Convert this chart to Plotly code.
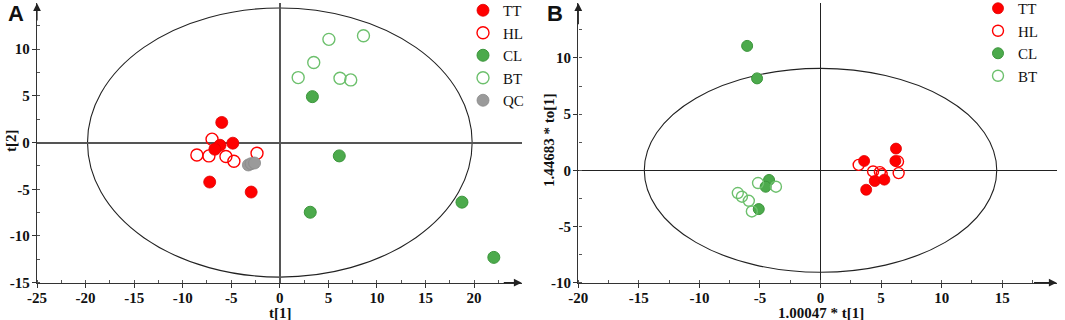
import plotly.graph_objects as go

# ---------------- Data: panel A (PCA scores) ----------------
A_TT_x = [-5.98, -4.84, -6.16, -6.69, -7.22, -2.95]
A_TT_y = [2.15, -0.07, -0.29, -0.72, -4.23, -5.30]
A_HL_x = [-6.98, -8.54, -7.30, -5.55, -4.73, -2.35]
A_HL_y = [0.36, -1.33, -1.43, -1.50, -2.00, -1.15]
A_CL_x = [3.35, 6.12, 3.13, 18.75, 22.03]
A_CL_y = [4.91, -1.43, -7.46, -6.38, -12.29]
A_BT_x = [1.89, 3.49, 5.05, 8.61, 6.19, 7.30]
A_BT_y = [6.95, 8.57, 11.04, 11.43, 6.88, 6.70]
A_QC_x = [-3.24, -2.95, -2.60]
A_QC_y = [-2.40, -2.26, -2.19]
A_ellipse = [19.8, 14.4]          # semi-axes (x, y)

# ---------------- Data: panel B (OPLS-DA scores) ----------------
B_TT_x = [6.23, 6.18, 3.60, 4.48, 5.27, 3.77]
B_TT_y = [1.93, 0.83, 0.83, -0.95, -0.83, -1.73]
B_HL_x = [3.15, 4.34, 4.90, 5.05, 6.40, 6.45]
B_HL_y = [0.48, -0.10, -0.16, -0.35, 0.78, -0.25]
B_CL_x = [-6.06, -5.24, -4.25, -4.53, -5.10]
B_CL_y = [11.07, 8.18, -0.86, -1.46, -3.45]
B_BT_x = [-5.16, -3.68, -6.83, -6.49, -5.92, -5.67]
B_BT_y = [-1.13, -1.46, -2.02, -2.35, -2.71, -3.66]
B_ellipse = [14.55, 9.07]

# ---------------- Axes / tick labels ----------------
A_xrange = [-25, 24.9]
A_yrange = [-15, 14.9]
B_xrange = [-20, 19.5]
B_yrange = [-10, 14.86]
A_xticks = [-25, -20, -15, -10, -5, 0, 5, 10, 15, 20]
A_xlabels = ["-25", "-20", "-15", "-10", "-5", "0", "5", "10", "15", "20"]
A_yticks = [-15, -10, -5, 0, 5, 10]
A_ylabels = ["-15", "-10", "-5", "0", "5", "10"]
B_xticks = [-20, -15, -10, -5, 0, 5, 10, 15]
B_xlabels = ["-20", "-15", "-10", "-5", "0", "5", "10", "15"]
B_yticks = [-10, -5, 0, 5, 10]
B_ylabels = ["-10", "-5", "0", "5", "10"]

RED = "#FF0000"
GREEN = "#4CAA4C"
GREEN_EDGE = "#3C963C"
LGREEN = "#6DC06D"
GREY = "#9A9A9A"
SERIF = "Liberation Serif"

W, H = 1065, 320

fig = go.Figure()


def add_group(x, y, name, xa, ya, legend, kind, size):
    if kind == "filled_red":
        m = dict(symbol="circle", size=size, color=RED, line=dict(color="#E00000", width=0.8))
    elif kind == "open_red":
        m = dict(symbol="circle-open", size=size, color=RED, line=dict(width=1.4))
    elif kind == "filled_green":
        m = dict(symbol="circle", size=size, color=GREEN, line=dict(color=GREEN_EDGE, width=1))
    elif kind == "open_green":
        m = dict(symbol="circle-open", size=size, color=LGREEN, line=dict(width=1.4))
    else:
        m = dict(symbol="circle", size=size, color=GREY, line=dict(color="#8A8A8A", width=0.8))
    fig.add_trace(go.Scatter(x=x, y=y, mode="markers", name=name, marker=m,
                             xaxis=xa, yaxis=ya, legend=legend, showlegend=True))


sA = 12
add_group(A_TT_x, A_TT_y, "TT", "x", "y", "legend", "filled_red", sA)
add_group(A_HL_x, A_HL_y, "HL", "x", "y", "legend", "open_red", sA)
add_group(A_CL_x, A_CL_y, "CL", "x", "y", "legend", "filled_green", sA)
add_group(A_BT_x, A_BT_y, "BT", "x", "y", "legend", "open_green", sA)
add_group(A_QC_x, A_QC_y, "QC", "x", "y", "legend", "grey", sA)

sB = 11
add_group(B_TT_x, B_TT_y, "TT", "x2", "y2", "legend2", "filled_red", sB)
add_group(B_HL_x, B_HL_y, "HL", "x2", "y2", "legend2", "open_red", sB)
add_group(B_CL_x, B_CL_y, "CL", "x2", "y2", "legend2", "filled_green", sB)
add_group(B_BT_x, B_BT_y, "BT", "x2", "y2", "legend2", "open_green", sB)

# Hotelling ellipses
fig.add_shape(type="circle", xref="x", yref="y",
              x0=-A_ellipse[0], x1=A_ellipse[0], y0=-A_ellipse[1], y1=A_ellipse[1],
              line=dict(color="#222", width=1.1), layer="below")
fig.add_shape(type="circle", xref="x2", yref="y2",
              x0=-B_ellipse[0], x1=B_ellipse[0], y0=-B_ellipse[1], y1=B_ellipse[1],
              line=dict(color="#222", width=1.1), layer="below")

ydom = [1 - 282.7 / H, 1 - 3.3 / H]


def tickfont():
    return dict(family=SERIF, size=15, color="#111")


def bold(labels):
    return ["<b>%s</b>" % s for s in labels]


def common(rng, tv, tt, zw, zc):
    return dict(range=rng, showgrid=False, automargin=False,
                zeroline=True, zerolinecolor=zc, zerolinewidth=zw,
                showline=True, linecolor="#333", linewidth=1.4,
                ticks="outside", ticklen=4, tickwidth=1.2, tickcolor="#333",
                tickmode="array", tickvals=tv, ticktext=bold(tt), tickfont=tickfont(),
                minor=dict(tickmode="linear", dtick=2.5, tick0=0, ticks="inside",
                           ticklen=3, tickcolor="#555"),
                fixedrange=True)


xa1 = common(A_xrange, A_xticks, A_xlabels, 1.6, "#555")
xa1.update(domain=[37 / W, 521.7 / W], anchor="y", ticklabelstandoff=-3)
ya1 = common(A_yrange, A_yticks, A_ylabels, 1.6, "#555")
ya1.update(domain=ydom, anchor="x", ticklabelstandoff=-1)
xa2 = common(B_xrange, B_xticks, B_xlabels, 1.0, "#222")
xa2.update(domain=[578.3 / W, 1056.7 / W], anchor="y2", ticklabelstandoff=-3)
ya2 = common(B_yrange, B_yticks, B_ylabels, 1.0, "#222")
ya2.update(domain=ydom, anchor="x2", ticklabelstandoff=-1)

fig.update_layout(
    width=W, height=H,
    margin=dict(l=0, r=0, t=0, b=0, autoexpand=False),
    paper_bgcolor="white", plot_bgcolor="white",
    xaxis=xa1, yaxis=ya1, xaxis2=xa2, yaxis2=ya2,
    legend=dict(x=463 / W, y=1 + 6 / H, xanchor="left", yanchor="top",
                font=dict(family=SERIF, size=15, color="#111"),
                bgcolor="rgba(0,0,0,0)", tracegroupgap=0, itemwidth=30),
    legend2=dict(x=978 / W, y=1 + 8 / H, xanchor="left", yanchor="top",
                 font=dict(family=SERIF, size=15, color="#111"),
                 bgcolor="rgba(0,0,0,0)", tracegroupgap=0, itemwidth=30),
    showlegend=True,
)

ann = []
# axis arrows
for xr, yr, xa, ya in [("x", "y", A_xrange, A_yrange), ("x2", "y2", B_xrange, B_yrange)]:
    ann.append(dict(x=xa[1], y=ya[0], ax=xa[1] - 2, ay=ya[0], xref=xr, yref=yr,
                    axref=xr, ayref=yr, showarrow=True, arrowhead=2, arrowsize=1.3,
                    arrowwidth=1.2, arrowcolor="#222", text=""))
    ann.append(dict(x=xa[0], y=ya[1], ax=xa[0], ay=ya[1] - 2, xref=xr, yref=yr,
                    axref=xr, ayref=yr, showarrow=True, arrowhead=2, arrowsize=1.3,
                    arrowwidth=1.2, arrowcolor="#222", text=""))

titlefont = dict(family=SERIF, size=15, color="#111", weight="bold")
ann += [
    dict(text="<b>t[1]</b>", x=280 / W, y=1 - 313 / H, xref="paper", yref="paper",
         showarrow=False, font=titlefont, xanchor="center", yanchor="middle"),
    dict(text="<b>t[2]</b>", x=11 / W, y=1 - 141 / H, xref="paper", yref="paper",
         showarrow=False, font=titlefont, textangle=-90, xanchor="center", yanchor="middle"),
    dict(text="<b>1.00047 * t[1]</b>", x=821 / W, y=1 - 313 / H, xref="paper", yref="paper",
         showarrow=False, font=titlefont, xanchor="center", yanchor="middle"),
    dict(text="<b>1.44683 * to[1]</b>", x=549 / W, y=1 - 140 / H, xref="paper", yref="paper",
         showarrow=False, font=titlefont, textangle=-90, xanchor="center", yanchor="middle"),
    dict(text="<b>A</b>", x=16 / W, y=1 - 14 / H, xref="paper", yref="paper", showarrow=False,
         font=dict(family="Liberation Sans", size=22, color="#111"),
         xanchor="center", yanchor="middle"),
    dict(text="<b>B</b>", x=555 / W, y=1 - 14 / H, xref="paper", yref="paper", showarrow=False,
         font=dict(family="Liberation Sans", size=22, color="#111"),
         xanchor="center", yanchor="middle"),
]
fig.update_layout(annotations=ann)

fig.write_html("out.html", config={"displayModeBar": False},
               post_script="document.body.style.margin='0px';document.body.style.overflow='hidden';")
